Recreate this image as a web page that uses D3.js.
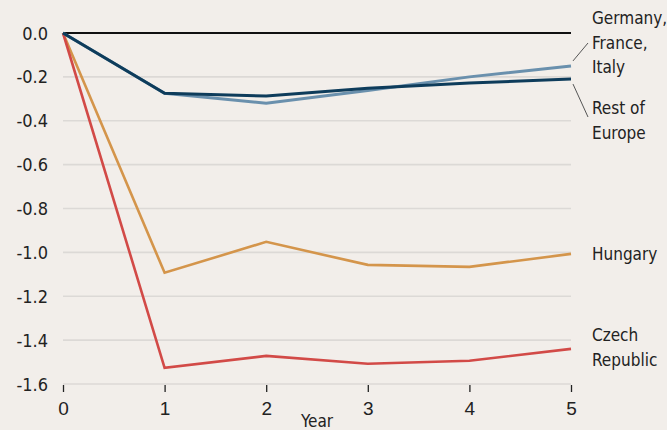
<!DOCTYPE html>
<html><head><meta charset="utf-8">
<script src="https://cdn.jsdelivr.net/npm/d3@7"></script>
<style>
html,body{margin:0;padding:0;background:#f2eeea;}
svg{display:block;font-family:"Liberation Sans Narrow","DejaVu Sans Condensed","Roboto",sans-serif;font-stretch:condensed;}
</style></head>
<body><svg id="c" width="667" height="430"></svg>
<script>
const years = [0, 1, 2, 3, 4, 5];
const yTicks = [0, -0.2, -0.4, -0.6, -0.8, -1.0, -1.2, -1.4, -1.6];
const gfi = [0, -0.275, -0.32, -0.262, -0.2, -0.15];
const restEurope = [0, -0.275, -0.287, -0.252, -0.228, -0.21];
const hungary = [0, -1.093, -0.952, -1.057, -1.066, -1.007];
const czech = [0, -1.526, -1.472, -1.508, -1.494, -1.44];
const seriesNames = ["Germany, France, Italy", "Rest of Europe", "Hungary", "Czech Republic"];

const svg = d3.select("#c");
const x = d3.scaleLinear().domain([0, 5]).range([63, 571]);
const y = d3.scaleLinear().domain([0, -1.6]).range([33, 384]);

// gridlines
svg.append("g").selectAll("line").data(yTicks.filter(d => d !== 0)).join("line")
  .attr("x1", x(0)).attr("x2", x(5)).attr("y1", d => y(d)).attr("y2", d => y(d))
  .attr("stroke", "#dcd9d6").attr("stroke-width", 1.6);

// y tick labels
svg.append("g").selectAll("text").data(yTicks).join("text")
  .attr("x", 48).attr("y", d => y(d) + 6.5).attr("text-anchor", "end")
  .attr("font-size", 18).attr("fill", "#222")
  .text(d => d3.format(".1f")(d).replace("−", "-"));

// x axis
const xAxis = d3.axisBottom(x).tickValues(years).tickSize(7).tickFormat(d3.format("d"));
const gx = svg.append("g").attr("transform", `translate(0,${y(-1.6) + 1})`).call(xAxis);
gx.select(".domain").remove();
gx.selectAll(".tick line").attr("stroke", "#222").attr("stroke-width", 1.3);
gx.selectAll(".tick text").attr("font-size", 19).attr("fill", "#222").attr("dy", "1.05em")
  .attr("font-family", null);
svg.append("text").attr("x", x(2.5)).attr("y", 427).attr("text-anchor", "middle")
  .attr("font-size", 17).attr("fill", "#222").text("Year");

// zero line
svg.append("line").attr("x1", x(0)).attr("x2", x(5)).attr("y1", y(0)).attr("y2", y(0))
  .attr("stroke", "#111").attr("stroke-width", 2);

const line = d3.line().x((d, i) => x(years[i])).y(d => y(d));
const series = [
  {v: hungary, c: "#d4954b", w: 2.6},
  {v: czech, c: "#d24a47", w: 2.6},
  {v: gfi, c: "#6a90ad", w: 3},
  {v: restEurope, c: "#0e3c5b", w: 3},
];
svg.append("g").selectAll("path").data(series).join("path")
  .attr("d", d => line(d.v)).attr("fill", "none").attr("stroke", d => d.c)
  .attr("stroke-width", d => d.w).attr("stroke-linejoin", "miter");

// labels
const labels = [
  {lines: ["Germany,", "France,", "Italy"], y0: 24},
  {lines: ["Rest of", "Europe"], y0: 114},
  {lines: ["Hungary"], y0: 260},
  {lines: ["Czech", "Republic"], y0: 341},
];
labels.forEach(l => {
  const t = svg.append("text").attr("x", 592).attr("y", l.y0).attr("font-size", 17).attr("fill", "#222");
  l.lines.forEach((s, i) => t.append("tspan").attr("x", 592).attr("dy", i === 0 ? 0 : 24.5).text(s));
});
// leader lines
svg.append("line").attr("x1", x(5) + 2).attr("y1", y(gfi[5]) - 5).attr("x2", 588).attr("y2", 43)
  .attr("stroke", "#555").attr("stroke-width", 1);
svg.append("line").attr("x1", x(5) + 2).attr("y1", y(restEurope[5]) + 5).attr("x2", 588).attr("y2", 117)
  .attr("stroke", "#555").attr("stroke-width", 1);
</script></body></html>
